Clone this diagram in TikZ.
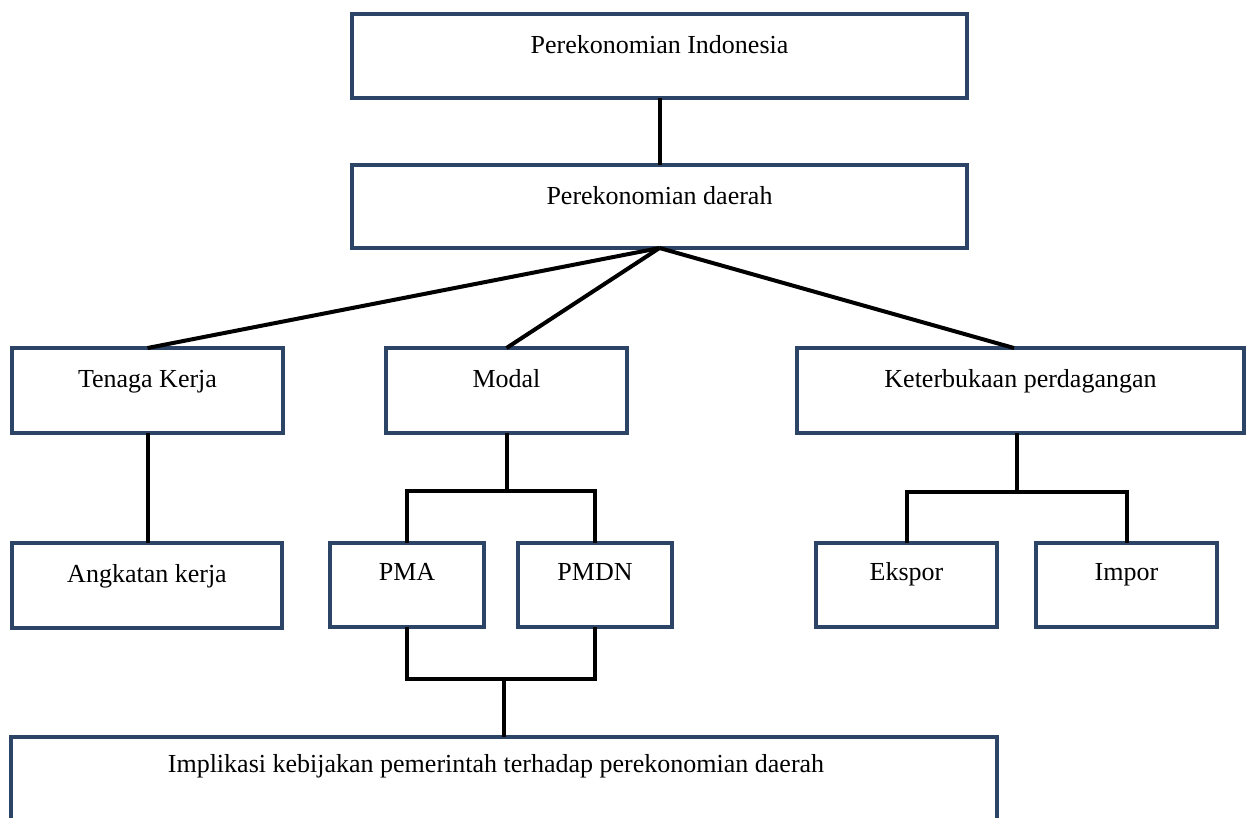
\documentclass[tikz,border=0pt]{standalone}
\usepackage{fontspec}
\setmainfont{Liberation Serif}
\definecolor{boxblue}{RGB}{44,68,102}
\begin{document}
\begin{tikzpicture}[x=1pt,y=-1pt,
  box/.style={draw=boxblue,line width=3.8pt,rectangle,inner sep=0pt,outer sep=0pt},
  lbl/.style={anchor=base,inner sep=0pt,font=\fontsize{26}{30}\selectfont},
  conn/.style={draw=black,line width=4pt}]
\useasboundingbox (0,0) rectangle (1248,817);
\clip (0,0) rectangle (1248,817);
\fill[white] (0,0) rectangle (1248,817);

% boxes
\node[box,minimum width=615pt,minimum height=84pt] (indo) at (659.5,56) {};
\node[box,minimum width=615pt,minimum height=83pt] (daerah) at (659.5,206.5) {};
\node[box,minimum width=271pt,minimum height=85pt] (tenaga) at (147.5,390.5) {};
\node[box,minimum width=241pt,minimum height=85pt] (modal) at (506.5,390.5) {};
\node[box,minimum width=447pt,minimum height=85pt] (keter) at (1020.5,390.5) {};
\node[box,minimum width=270pt,minimum height=85pt] (angkatan) at (147,585.5) {};
\node[box,minimum width=154pt,minimum height=84pt] (pma) at (407,585) {};
\node[box,minimum width=154pt,minimum height=84pt] (pmdn) at (595,585) {};
\node[box,minimum width=181pt,minimum height=84pt] (ekspor) at (906.5,585) {};
\node[box,minimum width=181pt,minimum height=84pt] (impor) at (1126.5,585) {};
\node[box,minimum width=986pt,minimum height=123pt] (impl) at (504,798.5) {};

% labels
\node[lbl] (tindo) at (659.5,53) {Perekonomian Indonesia};
\node[lbl] (tdaerah) at (659.5,204) {Perekonomian daerah};
\node[lbl] (ttenaga) at (147.5,387) {Tenaga Kerja};
\node[lbl] (tmodal) at (506.5,387) {Modal};
\node[lbl] (tketer) at (1020.5,387) {Keterbukaan perdagangan};
\node[lbl] (tangkatan) at (147,582) {Angkatan kerja};
\node[lbl] (tpma) at (407,580) {PMA};
\node[lbl] (tpmdn) at (595,580) {PMDN};
\node[lbl] (tekspor) at (906.5,580) {Ekspor};
\node[lbl] (timpor) at (1126.5,580) {Impor};
\node[lbl] (timpl) at (496,772) {Implikasi kebijakan pemerintah terhadap perekonomian daerah};

% connectors
\draw[conn] (indo.south) -- (daerah.north);
\draw[conn] (daerah.south) -- (tenaga.north);
\draw[conn] (daerah.south) -- (modal.north);
\draw[conn] (daerah.south) -- ([xshift=-6.5pt]keter.north);
\draw[conn] (tenaga.south) -- (tenaga.south |- angkatan.north);
\draw[conn] (modal.south) -- (modal.south |- 0,491);
\draw[conn] (pma.north) -- (pma.north |- 0,491) -- (pmdn.north |- 0,491) -- (pmdn.north);
\draw[conn] (pma.south) -- (pma.south |- 0,679) -- (pmdn.south |- 0,679) -- (pmdn.south);
\draw[conn] (impl.north) -- (impl.north |- 0,679);
\draw[conn] ([xshift=-3.5pt]keter.south) -- ([xshift=-3.5pt]keter.south |- 0,492);
\draw[conn] (ekspor.north) -- (ekspor.north |- 0,492) -- (impor.north |- 0,492) -- (impor.north);
\end{tikzpicture}
\end{document}
